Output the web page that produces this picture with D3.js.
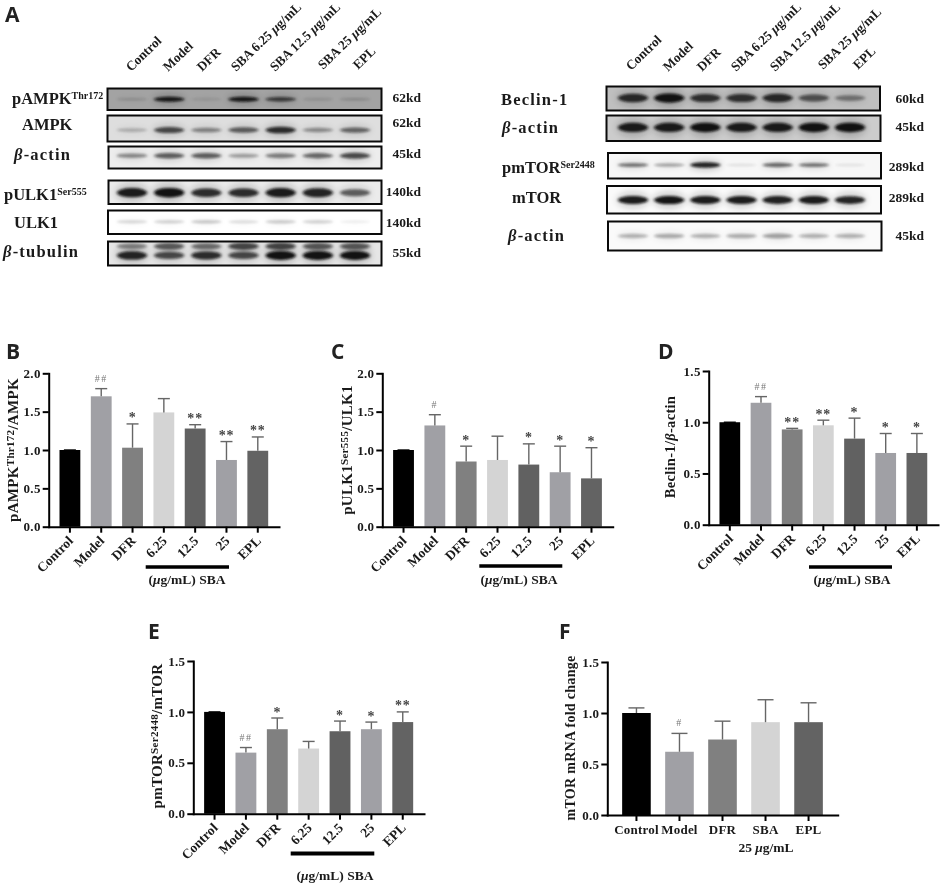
<!DOCTYPE html>
<html><head><meta charset="utf-8">
<script src="https://cdn.jsdelivr.net/npm/d3@7/dist/d3.min.js"></script>
<style>
html,body{margin:0;padding:0;background:#fff}
svg{display:block;opacity:.999}
text{font-family:"Liberation Serif",serif;font-weight:700;fill:#1a1a1a}
.letter{font-family:"Open Sans",sans-serif;font-weight:700;font-size:21px;fill:#222}
</style></head><body>
<script>
// ---------- data: bar charts ----------
const groups7 = ["Control","Model","DFR","6.25","12.5","25","EPL"];
const groupsF = ["Control","Model","DFR","SBA","EPL"];
const colors7 = ["#000000","#a0a0a5","#808080","#d4d4d4","#616161","#a0a0a5","#636363"];
const colorsF = ["#000000","#a0a0a5","#808080","#d4d4d4","#636363"];

const valuesB = [1.00,1.70,1.03,1.49,1.28,0.87,0.99];
const errorsB = [0.00,0.10,0.31,0.18,0.05,0.24,0.18];
const marksB  = ["","##","*","","**","**","**"];

const valuesC = [1.00,1.32,0.85,0.87,0.81,0.71,0.63];
const errorsC = [0.00,0.14,0.20,0.31,0.27,0.34,0.40];
const marksC  = ["","#","*","","*","*","*"];

const valuesD = [1.00,1.19,0.93,0.97,0.84,0.70,0.70];
const errorsD = [0.00,0.06,0.01,0.05,0.20,0.19,0.19];
const marksD  = ["","##","**","**","*","*","*"];

const valuesE = [1.00,0.60,0.83,0.64,0.81,0.83,0.90];
const errorsE = [0.00,0.05,0.11,0.07,0.10,0.07,0.10];
const marksE  = ["","##","*","","*","*","**"];

const valuesF = [1.00,0.62,0.74,0.91,0.91];
const errorsF = [0.05,0.18,0.18,0.22,0.19];
const marksF  = ["","#","","",""];

// ---------- data: western-blot band strength per lane (0..1) ----------
const lanes = ["Control","Model","DFR","SBA 6.25","SBA 12.5","SBA 25","EPL"];
const bandPAMPK  = [.12,.95,.08,.95,.7,.1,.14];
const bandAMPK   = [.2,.7,.4,.6,.85,.35,.55];
const bandActinL = [.4,.6,.6,.3,.45,.55,.7];
const bandPULK1  = [.95,1,.85,.85,.95,.9,.6];
const bandULK1   = [.12,.14,.18,.1,.17,.14,.03];
const bandTubA   = [.4,.6,.5,.7,.7,.6,.6];
const bandTubB   = [.9,.7,.85,.7,1,1,1];
const bandBeclin = [.85,1,.8,.8,.85,.6,.4];
const bandActinR = [.95,.95,1,.95,.95,1,1];
const bandPMTOR  = [.5,.3,.9,.06,.55,.5,.05];
const bandMTOR   = [.95,.98,.95,.95,.92,.95,.9];
const bandActinS = [.25,.28,.25,.27,.32,.25,.25];

// ---------- layout ----------
const W=941,H=885;
const svg=d3.select("body").append("svg").attr("width",W).attr("height",H).attr("viewBox",`0 0 ${W} ${H}`);
const defs=svg.append("defs");
defs.append("filter").attr("id","soft").attr("x","-20%").attr("y","-100%").attr("width","140%").attr("height","300%")
  .append("feGaussianBlur").attr("stdDeviation","1.8 1");
defs.append("filter").attr("id","halo").attr("x","-30%").attr("y","-200%").attr("width","160%").attr("height","500%")
  .append("feGaussianBlur").attr("stdDeviation","3.5 3");

function rich(sel,parts){
  parts.forEach(p=>{
    const t=sel.append("tspan").text(p.t);
    if(p.it) t.attr("font-style","italic");
    if(p.sup){ t.attr("font-size",p.sup).attr("dy",p.up); }
    if(p.down) t.attr("dy",p.down);
    if(p.ls!=null) t.attr("letter-spacing",p.ls);
  });
  return sel;
}

// panel letters
[["A",5,22],["B",6,359],["C",331,359],["D",658,359],["E",148,639],["F",559,639]].forEach(d=>
  svg.append("text").attr("class","letter").attr("x",d[1]).attr("y",d[2]).text(d[0]));

// ---------- blots ----------
const laneL=d3.scalePoint().domain(lanes).range([132,355]);
const laneR=d3.scalePoint().domain(lanes).range([633,850]);
const darkness=d3.scaleLinear().domain([0,1]).range([.03,.97]);
const thick=d3.scaleLinear().domain([0,1]).range([2,6.5]);
const blots=[
 {lane:laneL,x:107.5,w:274,y:88.5,h:21.5,bg:.36,t:.7,rows:[[bandPAMPK,.5]]},
 {lane:laneL,x:107.5,w:274,y:115.5,h:26,bg:.13,t:1,rows:[[bandAMPK,.56]]},
 {lane:laneL,x:108.5,w:273,y:146.5,h:22,bg:.07,t:1,rows:[[bandActinL,.42]]},
 {lane:laneL,x:108.5,w:273,y:180.5,h:23.5,bg:.08,t:1.35,rows:[[bandPULK1,.52]]},
 {lane:laneL,x:108,w:273.5,y:210.5,h:23.5,bg:0,t:1,rows:[[bandULK1,.48]]},
 {lane:laneL,x:108,w:273.5,y:241.5,h:24,bg:.1,t:1.25,rows:[[bandTubA,.2],[bandTubB,.58]]},
 {lane:laneR,x:606.5,w:273.5,y:86.5,h:24,bg:.25,t:1.3,rows:[[bandBeclin,.48]]},
 {lane:laneR,x:606.5,w:274,y:115.5,h:25.5,bg:.2,t:1.35,rows:[[bandActinR,.47]]},
 {lane:laneR,x:608,w:273,y:153,h:25.5,bg:.03,t:.8,rows:[[bandPMTOR,.47]]},
 {lane:laneR,x:607,w:274,y:186,h:27.5,bg:.02,t:1.15,rows:[[bandMTOR,.51]]},
 {lane:laneR,x:608,w:273.5,y:221.5,h:29,bg:.02,t:1.2,rows:[[bandActinS,.5]]}
];
blots.forEach((b,i)=>{
  const id="clip"+i;
  defs.append("clipPath").attr("id",id).append("rect").attr("x",b.x).attr("y",b.y).attr("width",b.w).attr("height",b.h);
  const g=svg.append("g").attr("clip-path",`url(#${id})`);
  g.append("rect").attr("x",b.x).attr("y",b.y).attr("width",b.w).attr("height",b.h)
    .attr("fill",d3.rgb(255*(1-b.bg),255*(1-b.bg),255*(1-b.bg)));
  b.rows.forEach(([vals,f])=>{
    const cy=b.y+b.h*f;
    g.selectAll(null).data(lanes).enter().append("ellipse")
      .attr("cx",d=>b.lane(d)).attr("cy",cy).attr("rx",16).attr("ry",(d,j)=>thick(vals[j])*b.t+1)
      .attr("fill","#111").attr("opacity",(d,j)=>darkness(vals[j])*.2).attr("filter","url(#halo)");
    g.selectAll(null).data(lanes).enter().append("ellipse")
      .attr("cx",d=>b.lane(d)).attr("cy",cy).attr("rx",15).attr("ry",(d,j)=>thick(vals[j])*b.t/2+.4)
      .attr("fill","#0c0c0c").attr("opacity",(d,j)=>darkness(vals[j])).attr("filter","url(#soft)");
  });
  svg.append("rect").attr("x",b.x).attr("y",b.y).attr("width",b.w).attr("height",b.h)
    .attr("fill","none").attr("stroke","#0a0a0a").attr("stroke-width",2);
});

// lane headers
const headers=[[{t:"Control"}],[{t:"Model"}],[{t:"DFR"}],
 [{t:"SBA 6.25 "},{t:"μ",it:1},{t:"g/mL"}],[{t:"SBA 12.5 "},{t:"μ",it:1},{t:"g/mL"}],[{t:"SBA 25 "},{t:"μ",it:1},{t:"g/mL"}],[{t:"EPL"}]];
const headL=[[131,72],[168,72],[202,72],[236,72],[275,72],[323,70],[358,70]];
const headR=[[631,71],[668,72],[702,72],[736,72],[775,72],[823,70],[858,70]];
[headL,headR].forEach(pos=>headers.forEach((p,i)=>{
  rich(svg.append("text").attr("font-size",13.2).attr("transform",`translate(${pos[i][0]},${pos[i][1]}) rotate(-44)`),p);
}));

// blot labels
const s=(t)=>({t,sup:"10px",up:"-5",ls:0});
const blotLabels=[
 [12,104,0,[{t:"pAMPK"},s("Thr172")]],[22,130,0,[{t:"AMPK"}]],[14,160,1.2,[{t:"β",it:1},{t:"-actin"}]],
 [4,200,0,[{t:"pULK1"},s("Ser555")]],[14,228,0,[{t:"ULK1"}]],[3,257,1.2,[{t:"β",it:1},{t:"-tubulin"}]],
 [501,105,1.2,[{t:"Beclin-1"}]],[502,133,1.2,[{t:"β",it:1},{t:"-actin"}]],[502,173,0,[{t:"pmTOR"},s("Ser2448")]],
 [512,203,0,[{t:"mTOR"}]],[508,241,1.2,[{t:"β",it:1},{t:"-actin"}]]
];
blotLabels.forEach(d=>rich(svg.append("text").attr("x",d[0]).attr("y",d[1]).attr("font-size",16.5).attr("letter-spacing",d[2]),d[3]));
const kdLabels=[[421,102,"62kd"],[421,127,"62kd"],[421,158,"45kd"],[421,196,"140kd"],[421,227,"140kd"],[421,257,"55kd"],
 [924,103,"60kd"],[924,131,"45kd"],[924,171,"289kd"],[924,202,"289kd"],[924,240,"45kd"]];
kdLabels.forEach(d=>svg.append("text").attr("x",d[0]).attr("y",d[1]).attr("text-anchor","end").attr("font-size",13.5).text(d[2]));

// ---------- bar panels ----------
function panel(o){
  const x=d3.scaleBand().domain(o.cats).range([o.x0,o.x1]).paddingInner(.335).paddingOuter(.345);
  const y=d3.scaleLinear().domain([0,o.max]).range([o.y0,o.y1]);
  const g=svg.append("g");
  g.selectAll(null).data(o.cats).enter().append("rect")
    .attr("x",d=>x(d)).attr("width",x.bandwidth())
    .attr("y",(d,i)=>y(o.vals[i])).attr("height",(d,i)=>y(0)-y(o.vals[i])).attr("fill",(d,i)=>o.colors[i]);
  const ew=g.selectAll(null).data(o.cats).enter().append("g").attr("stroke",(d,i)=>i==0&&o.errs[0]==0?"#000":"#666").attr("stroke-width",1.4);
  ew.append("line").attr("x1",d=>x(d)+x.bandwidth()/2).attr("x2",d=>x(d)+x.bandwidth()/2)
    .attr("y1",(d,i)=>y(o.vals[i])).attr("y2",(d,i)=>y(o.vals[i]+o.errs[i]));
  ew.append("line").attr("x1",d=>x(d)+x.bandwidth()/2-o.cap).attr("x2",d=>x(d)+x.bandwidth()/2+o.cap)
    .attr("y1",(d,i)=>y(o.vals[i]+o.errs[i])).attr("y2",(d,i)=>y(o.vals[i]+o.errs[i]));
  // significance marks
  g.selectAll(null).data(o.cats).enter().append("text")
    .attr("x",d=>x(d)+x.bandwidth()/2)
    .attr("y",(d,i)=>y(o.vals[i]+o.errs[i])-(o.marks[i][0]=="#"?7:1.5))
    .attr("text-anchor","middle")
    .attr("font-size",(d,i)=>o.marks[i][0]=="#"?10:14)
    .attr("letter-spacing",(d,i)=>o.marks[i][0]=="#"?1.5:0.8)
    .style("fill",(d,i)=>o.marks[i][0]=="#"?"#777":"#444")
    .style("font-weight",(d,i)=>o.marks[i][0]=="#"?400:700)
    .text((d,i)=>o.marks[i]);
  // axes
  const ay=g.append("g").attr("transform",`translate(${o.x0},0)`)
    .call(d3.axisLeft(y).tickValues(d3.range(0,o.max+.01,.5)).tickFormat(d3.format(".1f")).tickSize(6).tickSizeOuter(0));
  const ax=g.append("g").attr("transform",`translate(0,${o.y0})`)
    .call(d3.axisBottom(x).tickSize(6).tickSizeOuter(0));
  [ay,ax].forEach(a=>{a.selectAll("path.domain,line").attr("stroke","#000").attr("stroke-width",2);a.select("path.domain").attr("stroke-linecap","square");a.attr("font-family",null);});
  ay.selectAll("text").attr("font-size",13).attr("x",-8).style("letter-spacing",".3px");
  ax.selectAll("text").attr("font-size",13.5);
  if(!o.flat){
    ax.selectAll("text").attr("text-anchor","end").attr("dy",0).attr("y",0)
      .attr("transform","translate(4,15) rotate(-45)");
  } else {
    ax.selectAll("text").attr("font-size",13).attr("y",10).attr("dy",".71em").style("letter-spacing",".2px");
  }
  // y title
  rich(svg.append("text").attr("text-anchor","middle").attr("font-size",o.tSize||15).attr("letter-spacing",.3)
    .attr("transform",`translate(${o.tx},${o.ty}) rotate(-90)`),o.title);
  // SBA bracket
  if(o.sba){
    g.append("rect").attr("x",o.sba[0]).attr("width",o.sba[1]-o.sba[0]).attr("y",o.sba[2]-o.sba[4]/2).attr("height",o.sba[4]).attr("fill","#000");
    rich(svg.append("text").attr("text-anchor","middle").attr("x",o.sba[5]).attr("y",o.sba[3]).attr("font-size",13.5),
      [{t:"("},{t:"μ",it:1},{t:"g/mL) SBA"}]);
  }
}
const sup=(t)=>({t,sup:"11px",up:"-4"});
panel({cats:groups7,colors:colors7,vals:valuesB,errs:errorsB,marks:marksB,max:2,x0:48.7,x1:279,y0:526.7,y1:373.3,cap:6,
  tx:18,ty:450,title:[{t:"pAMPK"},sup("Thr172"),{t:"/AMPK",down:"4"}],sba:[145.7,229,567,584,3.5,187]});
panel({cats:groups7,colors:colors7,vals:valuesC,errs:errorsC,marks:marksC,max:2,x0:382.3,x1:612.7,y0:526.7,y1:373.3,cap:6,
  tx:352,ty:450,title:[{t:"pULK1"},sup("Ser555"),{t:"/ULK1",down:"4"}],sba:[479.3,562.3,566,584,3.5,519]});
panel({cats:groups7,colors:colors7,vals:valuesD,errs:errorsD,marks:marksD,max:1.5,x0:708.7,x1:938,y0:524.7,y1:371,cap:6,
  tx:675,ty:447,tSize:14.5,title:[{t:"Beclin-1/"},{t:"β",it:1},{t:"-actin"}],sba:[809,892,567,584,3.5,852]});
panel({cats:groups7,colors:colors7,vals:valuesE,errs:errorsE,marks:marksE,max:1.5,x0:193.3,x1:424,y0:813.7,y1:661,cap:6,
  tx:162,ty:736,title:[{t:"pmTOR"},sup("Ser2448"),{t:"/mTOR",down:"4"}],sba:[290.7,374.3,853.5,880,4,335]});
panel({cats:groupsF,colors:colorsF,vals:valuesF,errs:errorsF,marks:marksF,max:1.5,x0:607.3,x1:837.7,y0:815,y1:662,cap:8,flat:true,
  tx:575,ty:738,tSize:14,title:[{t:"mTOR mRNA fold change"}]});
rich(svg.append("text").attr("text-anchor","middle").attr("x",766).attr("y",852).attr("font-size",13.5),
  [{t:"25 "},{t:"μ",it:1},{t:"g/mL"}]);
</script>
</body></html>
